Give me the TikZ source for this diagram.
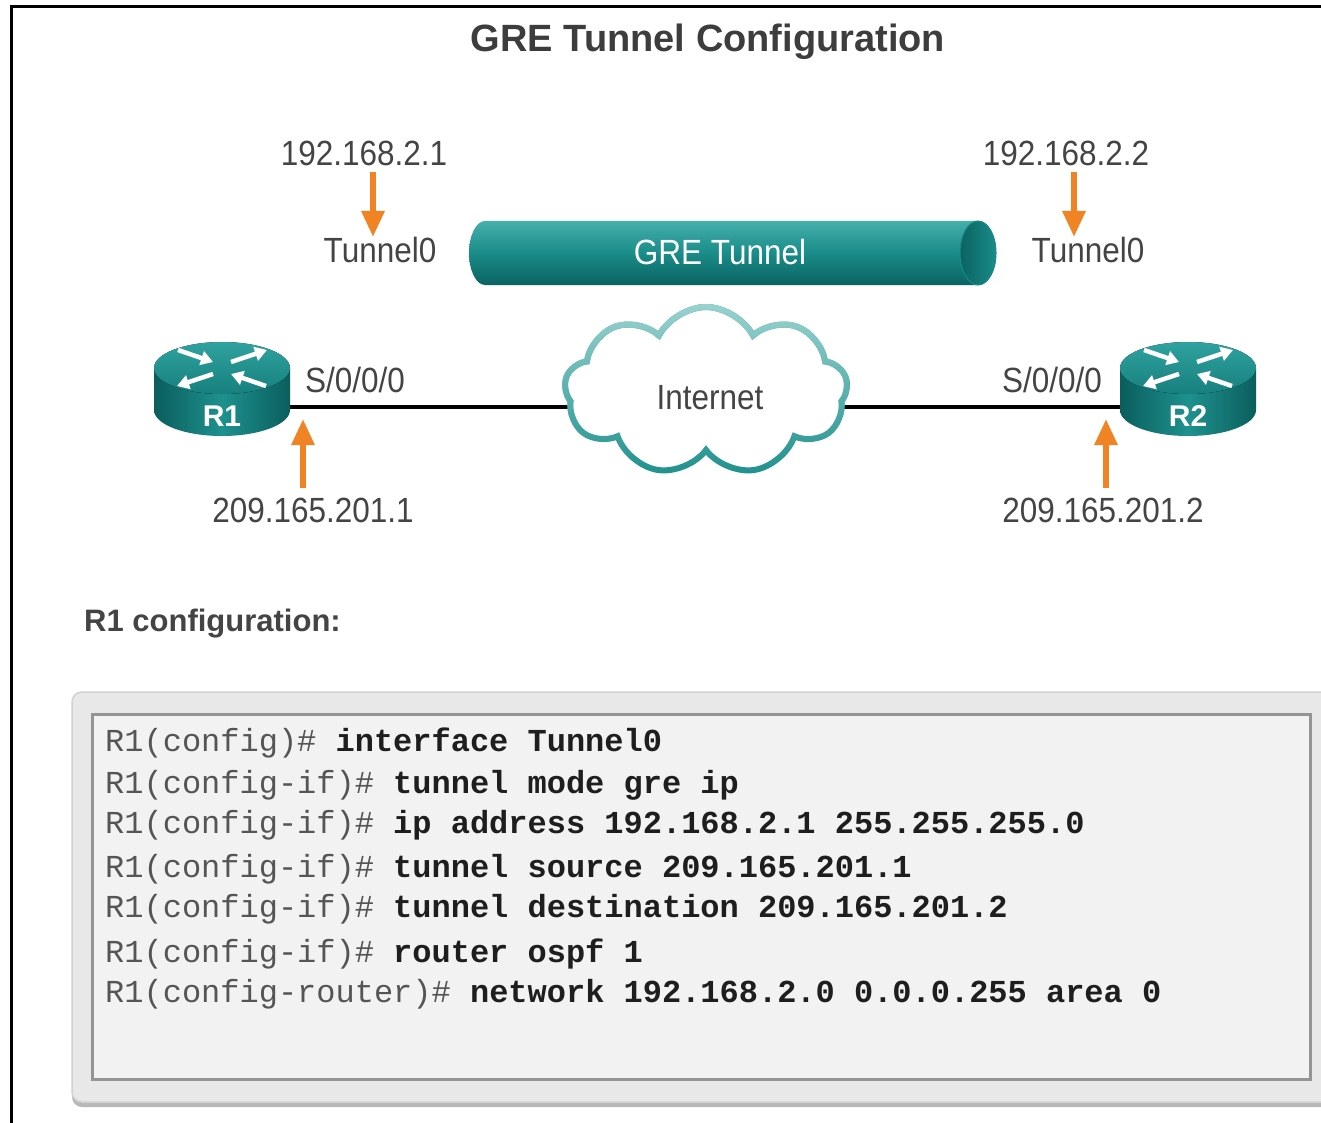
\documentclass[tikz,border=0pt]{standalone}
\usepackage{fontspec}
\setmainfont{Liberation Sans}
\newfontfamily\lab[FakeStretch=0.9]{Liberation Sans}
\setmonofont{Liberation Mono}
\usetikzlibrary{shapes.symbols,arrows.meta,backgrounds,fadings}
\definecolor{txtc}{HTML}{444444}
\definecolor{orangec}{HTML}{F08424}
\definecolor{rdark}{HTML}{0A5E5D}
\definecolor{rmid}{HTML}{1E918E}
\definecolor{rtop1}{HTML}{2FA29F}
\definecolor{rtop2}{HTML}{17807E}
\definecolor{tubetop}{HTML}{45AFAB}
\definecolor{tubemid}{HTML}{1A8C89}
\definecolor{tubebot}{HTML}{0A6361}
\definecolor{cloudc}{HTML}{1F918D}
\definecolor{cloudl}{HTML}{9AD3D0}
\definecolor{promptc}{HTML}{555555}
\definecolor{cmdc}{HTML}{1E1E1E}
\tikzset{
  lbl/.style={font=\lab\fontsize{35}{40}\selectfont, text=txtc, inner sep=0pt},
  oarr/.style={draw=orangec, line width=6pt, -{Triangle[width=22pt,length=26pt]}},
  cfg/.style={font=\ttfamily\fontsize{32}{36}\selectfont, inner sep=0pt, anchor=base west},
  warr/.style={draw=white, line width=4.5pt, -{Triangle[width=14pt,length=12pt]}},
  cloudshape/.style={cloud, cloud puffs=9, cloud puff arc=125, aspect=1.6, minimum width=283pt, minimum height=168pt, line width=6pt},
  pics/router/.style={code={
    \path[left color=rdark, right color=rdark, middle color=rmid]
      (-68,-22) -- (-68,20) arc[start angle=180,end angle=0,x radius=68,y radius=26] -- (68,-22) -- cycle;
    \fill[top color=rtop1, bottom color=rtop2] (0,-22) ellipse[x radius=68,y radius=26];
    \draw[warr] (-44,-40) -- (-9,-28);
    \draw[warr] (9,-28) -- (45,-40);
    \draw[warr] (-9,-16) -- (-45,-4);
    \draw[warr] (44,-4) -- (9,-16);
    \node[font=\bfseries\fontsize{30}{34}\selectfont, text=white, inner sep=0pt] (-lbl) at (0,26) {#1};
    \coordinate (-e) at (66,17);
    \coordinate (-w) at (-66,17);
  }}
}
\begin{document}
\begin{tikzpicture}[x=1pt,y=-1pt]
\useasboundingbox (0,0) rectangle (1321,1123);
\clip (0,0) rectangle (1321,1123);
% frame
\draw[line width=3pt, black] (11,1125) -- (11,7) -- (1325,7);
% title
\node[font=\bfseries\fontsize{38}{42}\selectfont, text=txtc!90!black, inner sep=0pt] (title) at (708,42) {GRE Tunnel Configuration};
% tube
\path[top color=tubetop, bottom color=tubebot, middle color=tubemid]
  (485,221) -- (978,221) arc[start angle=270,end angle=450,x radius=18,y radius=32]
  -- (485,285) arc[start angle=90,end angle=270,x radius=16,y radius=32] -- cycle;
\fill[left color=tubebot, right color=tubemid] (978,253) ellipse[x radius=18,y radius=32];
\draw[tubemid, line width=1pt] (978,253) ellipse[x radius=18,y radius=32];
\node[lbl, text=white] (gre) at (720,252) {GRE Tunnel};
% cloud
\node[cloudshape, draw=cloudc, fill=white] (inet) at (706,391) {};
\node[cloudshape, draw=cloudl, path fading=south] (inetl) at (706,391) {};
\node[lbl] (inettxt) at (710,398) {Internet};
% routers
\pic (r1) at (222,390) {router=R1};
\pic (r2) at (1188,390) {router=R2};
\begin{scope}[on background layer]
\fill[white] (0,0) rectangle (1321,1123);
\draw[line width=4pt, black] (r1-e) -- (r2-w);
\end{scope}
% labels
\node[lbl] (ip1) at (364,153) {192.168.2.1};
\node[lbl] (tn1) at (380,250) {Tunnel0};
\node[lbl] (ip2) at (1066,153) {192.168.2.2};
\node[lbl] (tn2) at (1088,250) {Tunnel0};
\node[lbl] (s1) at (355,380) {S/0/0/0};
\node[lbl] (s2) at (1052,380) {S/0/0/0};
\node[lbl] (pip1) at (313,510) {209.165.201.1};
\node[lbl] (pip2) at (1103,510) {209.165.201.2};
% orange arrows
\coordinate (a1s) at (373,172); \coordinate (a1e) at (373,237);
\coordinate (a2s) at (1074,172); \coordinate (a2e) at (1074,237);
\coordinate (a3s) at (303,488); \coordinate (a3e) at (303,419);
\coordinate (a4s) at (1106,488); \coordinate (a4e) at (1106,419);
\draw[oarr] (a1s) -- (a1e);
\draw[oarr] (a2s) -- (a2e);
\draw[oarr] (a3s) -- (a3e);
\draw[oarr] (a4s) -- (a4e);
% config heading
\node[font=\bfseries\fontsize{31}{36}\selectfont, text=txtc, inner sep=0pt, anchor=west] (cfghead) at (84,624) {R1 configuration:};
% config box
\fill[black!28, rounded corners=10pt] (72,698) rectangle (1340,1107);
\fill[black!9, rounded corners=10pt] (72,692) rectangle (1340,1102);
\draw[black!18, line width=1.5pt, rounded corners=10pt] (72,692) rectangle (1340,1102);
\draw[fill=black!5, draw=black!42, line width=3pt] (92,714) rectangle (1310,1079);
\node[cfg] (c1) at (105,751) {\textcolor{promptc}{R1(config)\#} \textcolor{cmdc}{\bfseries interface Tunnel0}};
\node[cfg] (c2) at (105,793) {\textcolor{promptc}{R1(config-if)\#} \textcolor{cmdc}{\bfseries tunnel mode gre ip}};
\node[cfg] (c3) at (105,833) {\textcolor{promptc}{R1(config-if)\#} \textcolor{cmdc}{\bfseries ip address 192.168.2.1 255.255.255.0}};
\node[cfg] (c4) at (105,877) {\textcolor{promptc}{R1(config-if)\#} \textcolor{cmdc}{\bfseries tunnel source 209.165.201.1}};
\node[cfg] (c5) at (105,917) {\textcolor{promptc}{R1(config-if)\#} \textcolor{cmdc}{\bfseries tunnel destination 209.165.201.2}};
\node[cfg] (c6) at (105,962) {\textcolor{promptc}{R1(config-if)\#} \textcolor{cmdc}{\bfseries router ospf 1}};
\node[cfg] (c7) at (105,1002) {\textcolor{promptc}{R1(config-router)\#} \textcolor{cmdc}{\bfseries network 192.168.2.0 0.0.0.255 area 0}};
\end{tikzpicture}
\end{document}
